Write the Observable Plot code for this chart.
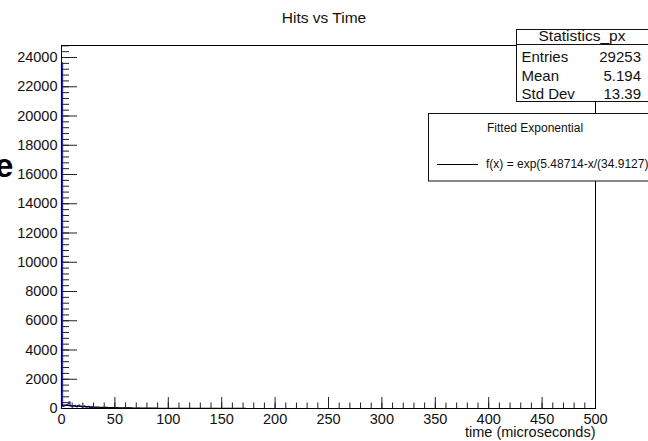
<!DOCTYPE html>
<html>
<head>
<meta charset="utf-8">
<script src="https://cdn.jsdelivr.net/npm/d3@7"></script>
<script src="https://cdn.jsdelivr.net/npm/@observablehq/plot@0.6"></script>
<style>
  html, body { margin: 0; padding: 0; background: #fff; }
  #chart { position: relative; width: 648px; height: 441px; overflow: hidden; }
  #chart svg text { font-family: "Liberation Sans", Arial, Helvetica, sans-serif; }
</style>
</head>
<body>
<div id="chart"></div>
<script>
// Histogram of hit times, 1 µs bins from 0 to 500 µs (bins past the last listed one are empty)
const title = "Hits vs Time";
const xLabel = "time (microseconds)";
const binWidth = 1;
const xRange = [0, 500];
const counts = [
  23640, 140, 180, 230, 210, 260, 320, 460, 200, 160,
  130, 170, 210, 140, 110, 200, 230, 170, 140, 100,
  150, 180, 130, 90, 110, 140, 80, 70, 100, 80,
  60, 50, 70, 50, 30, 60, 40, 20, 50, 70,
  30, 20, 20, 40, 20, 20, 10, 30, 20, 10,
  20, 0, 10, 20, 0, 10, 0, 0, 20, 0,
  0, 10, 50, 0, 0, 10, 0, 0, 0, 0,
  10, 0, 30, 0, 0
];

// Tick labels
const xTicks = [0, 50, 100, 150, 200, 250, 300, 350, 400, 450, 500];
const yTicks = [0, 2000, 4000, 6000, 8000, 10000, 12000, 14000, 16000, 18000, 20000, 22000, 24000];
const xMinorStep = 10;
const yMinorStep = 400;

// Statistics box and fit legend
const statsName = "Statistics_px";
const statsLabels = ["Entries", "Mean", "Std Dev"];
const statsValues = ["29253", "5.194", "13.39"];
const legendHeader = "Fitted Exponential";
const fitP0 = 5.48714;
const fitTau = 34.9127;
const fitLabel = `f(x) = exp(${fitP0}-x/(${fitTau}))`;

const W = 648, H = 441;
const mL = 61, mR = 53, mT = 45, mB = 33;
const frameW = W - mL - mR, frameH = H - mT - mB;
const font = '"Liberation Sans", Arial, Helvetica, sans-serif';

// Step outline of the histogram
const steps = [{x: 0, y: 0}]
  .concat(counts.map((c, i) => ({x: i * binWidth, y: c})))
  .concat([{x: counts.length * binWidth, y: 0}, {x: xRange[1], y: 0}]);

// Fitted exponential, sampled along the axis
const fitPoints = d3.range(1, xRange[1] + 0.001, 1).map(x => ({x, y: Math.exp(fitP0 - x / fitTau)}));

const yMax = d3.max(counts) * 1.05;
const xMinor = d3.range(xRange[0], xRange[1] + 0.001, xMinorStep);
const yMinor = d3.range(0, yMax, yMinorStep);

const chart = Plot.plot({
  width: W,
  height: H,
  marginLeft: mL,
  marginRight: mR,
  marginTop: mT,
  marginBottom: mB,
  style: {fontFamily: font, fontSize: "14.5px", color: "#111", background: "white", overflow: "visible"},
  x: {domain: xRange, label: null},
  y: {domain: [0, yMax], label: null},
  marks: [
    Plot.line(steps, {x: "x", y: "y", curve: "step-after", stroke: "#2a2ad4", strokeWidth: 1.2}),
    Plot.line(fitPoints, {x: "x", y: "y", stroke: "#000", strokeWidth: 1.2}),
    Plot.ruleY(yMinor, {insetRight: frameW - 8, stroke: "#222"}),
    Plot.ruleY(yTicks, {insetRight: frameW - 16, stroke: "#222"}),
    Plot.ruleX(xMinor, {insetTop: frameH - 5.5, stroke: "#222"}),
    Plot.ruleX(xTicks, {insetTop: frameH - 11, stroke: "#222"}),
    Plot.axisY(yTicks, {tickSize: 0, tickPadding: 4, tickFormat: d => String(d), label: null, fontSize: 14.5}),
    Plot.axisX(xTicks, {tickSize: 0, tickPadding: 5, tickFormat: d => String(d), label: null, fontSize: 14.5}),
    Plot.frame({stroke: "#000"}),
    Plot.text([xLabel], {frameAnchor: "bottom-right", dy: 28.5, text: d => d, textAnchor: "end", lineAnchor: "bottom", fontSize: 14.5})
  ]
});

document.getElementById("chart").appendChild(chart);

const svg = d3.select(chart);

// Title
svg.append("text")
  .attr("x", W / 2).attr("y", 23)
  .attr("text-anchor", "middle")
  .attr("font-size", 15.5)
  .attr("fill", "#111")
  .text(title);

// Large letter at the left edge
svg.append("text")
  .attr("x", -5).attr("y", 177)
  .attr("text-anchor", "start")
  .attr("font-size", 33)
  .attr("font-weight", "bold")
  .attr("fill", "#000")
  .text("e");

// Statistics box
const stats = svg.append("g").attr("text-anchor", "start");
stats.append("rect")
  .attr("x", 516.5).attr("y", 29.5).attr("width", 150).attr("height", 72)
  .attr("fill", "white").attr("stroke", "#111");
stats.append("line")
  .attr("x1", 516.5).attr("x2", 666).attr("y1", 44.5).attr("y2", 44.5)
  .attr("stroke", "#111");
stats.append("text")
  .attr("x", 582).attr("y", 41).attr("text-anchor", "middle")
  .attr("font-size", 15.5).attr("fill", "#111")
  .text(statsName);
const rowBase = [62, 80.5, 99];
statsLabels.forEach((label, i) => {
  stats.append("text")
    .attr("x", 521.5).attr("y", rowBase[i])
    .attr("text-anchor", "start")
    .attr("font-size", 15).attr("fill", "#111")
    .text(label);
  stats.append("text")
    .attr("x", 641).attr("y", rowBase[i]).attr("text-anchor", "end")
    .attr("font-size", 15).attr("fill", "#111")
    .text(statsValues[i]);
});

// Fit legend
const legend = svg.append("g").attr("text-anchor", "start");
legend.append("rect")
  .attr("x", 428.5).attr("y", 113.5).attr("width", 240).attr("height", 67.5)
  .attr("fill", "white").attr("stroke", "#111");
legend.append("text")
  .attr("x", 487).attr("y", 131.5)
  .attr("text-anchor", "start")
  .attr("font-size", 12).attr("fill", "#111")
  .text(legendHeader);
legend.append("line")
  .attr("x1", 437).attr("x2", 478).attr("y1", 164.5).attr("y2", 164.5)
  .attr("stroke", "#000");
legend.append("text")
  .attr("x", 486).attr("y", 168)
  .attr("text-anchor", "start")
  .attr("font-size", 12).attr("fill", "#111")
  .text(fitLabel);
</script>
</body>
</html>
